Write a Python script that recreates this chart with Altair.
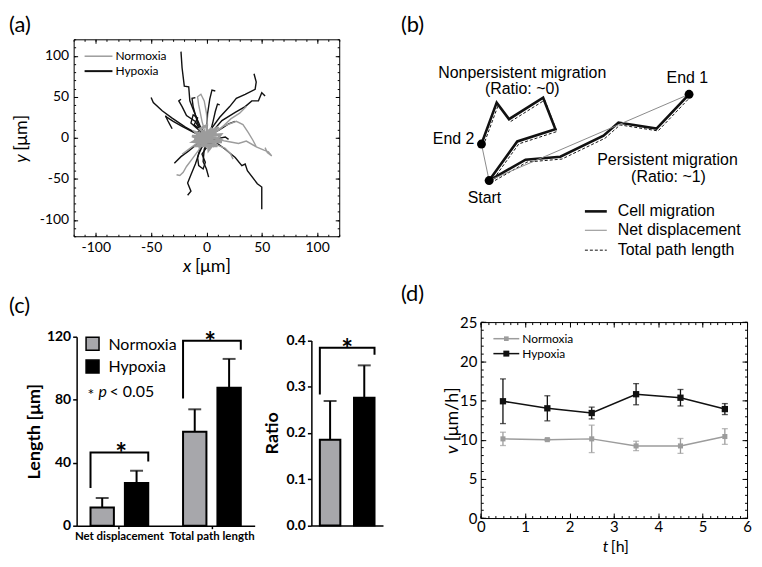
import altair as alt
import pandas as pd

# ---------------------------------------------------------------- layout
W, H = 750, 549


def cx(v):  # page x -> chart x
    return v - 8


def cy(v):  # page y -> chart y
    return v - 8


def off_bottom(y):
    return cy(y) - H


def off_top(y):
    return -cy(y)


def off_left(x):
    return -cx(x)


def off_right(x):
    return cx(x) - W


FONT = "Lato"
SCHEME_FONT = "Liberation Sans"
GRAY = "#9c9c9c"
BAR_GRAY = "#a7a7ab"
BLACK = "#111111"
NUM = "'' + datum.value"

# ---------------------------------------------------------------- (a) data
A_TICKS = [-100, -50, 0, 50, 100]
A_MINOR = list(range(-120, 121, 10))

HYPOXIA_TRACKS = [
    [(0, 2), (-5, 12), (-11, 31), (-15, 45), (-16, 62), (-20, 63), (-22, 85), (-23, 105)],
    [(-2, 2), (-7, 4), (-19, 13), (-31, 24), (-40, 33), (-48, 43), (-50, 49)],
    [(-37, 27), (-35, 21), (-33, 16), (-31, 11)],
    [(2, 2), (5, 12), (12, 25), (21, 38), (27, 48), (35, 53), (44, 59), (45, 68), (43, 78)],
    [(2, 3), (5, 7), (14, 21), (26, 31), (35, 38), (41, 45), (47, 45), (50, 55), (53, 51)],
    [(3, -2), (7, -4), (17, -14), (26, -24), (32, -34), (35, -32), (37, -40), (46, -56), (50, -60), (50, -87)],
    [(-2, -5), (-3, -8), (-7, -20), (-10, -32), (-14, -45), (-17, -55), (-14, -65), (-17, -70)],
    [(-3, -3), (-7, -6), (-16, -16), (-23, -23), (-29, -31)],
    [(1, -5), (-2, -14), (-3, -29), (0, -38), (2, -48)],
    [(0, 3), (1, 29), (3, 47), (5, 58), (8, 57)],
    [(-4, 5), (-10, 20), (-18, 27), (-22, 38), (-25, 45), (-23, 47)],
    [(-3, 4), (-8, 18), (-12, 38), (-13, 48), (-10, 49)],
    [(-4, 6), (-9, 12), (-14, 18), (-12, 28), (-8, 24), (-11, 16), (-6, 10)],
    [(-2, -8), (-6, -14), (-8, -24), (-7, -34), (-3, -38), (-1, -30), (-4, -20), (0, -12)],
    [(4, 4), (12, 10), (20, 17), (26, 20)],
    [(4, -1), (10, -1), (17, 1), (20, -2)],
    [(3, 4), (6, 20), (8, 32), (10, 41), (12, 40)],
    [(-2, 1), (-12, 7), (-22, 14), (-30, 20), (-37, 26)],
    [(0, 0), (-8, 8), (6, -6), (-6, -8), (8, 8), (-10, 0), (10, -2)],
]

NORMOXIA_TRACKS = [
    [(2, 0), (10, -2), (17, -4), (29, -7), (36, -4), (45, -11), (52, -15), (56, -17), (59, -22), (55, -18), (53, -12)],
    [(4, 3), (12, 10), (22, 23), (30, 30), (36, 38)],
    [(3, 2), (15, 14), (27, 20), (33, 16), (38, 6), (42, -3), (45, -11)],
    [(-1, 5), (-4, 20), (-7, 40), (-8, 50), (-5, 53), (-2, 45), (0, 30), (1, 15)],
    [(-2, -4), (-7, -15), (-13, -26), (-18, -35), (-21, -42), (-24, -46), (-27, -45)],
    [(3, -4), (10, -9), (17, -13), (22, -20), (24, -26)],
    [(-3, -2), (-10, -8), (-17, -15), (-22, -20)],
]

NORMOXIA_CORE = [
    (0, 0), (9, 6), (-8, -4), (5, 12), (-5, -10), (12, -2), (-10, 7), (3, -12), (8, 11),
    (-12, -5), (7, -7), (-6, 11), (0, 15), (2, -15), (13, 4), (-13, 2), (10, -10), (-9, -10),
    (11, 13), (-3, 0), (6, 2), (-4, 8), (4, -9), (-11, -1), (14, -5), (0, -6), (-7, 4), (9, 9), (1, 5),
]

# ---------------------------------------------------------------- (b) data
PERSIST_X = [111.7, 148.3, 183.3, 226.7, 241.7, 280.0, 312.7]
PERSIST_Y = [100.0, 121.0, 124.0, 145.0, 158.3, 152.3, 186.7]
NONPERSIST_X = [111.7, 140.0, 178.3, 166.0, 131.7, 119.3, 104.0]
NONPERSIST_Y = [100.0, 139.3, 151.7, 183.3, 161.7, 178.3, 136.7]

# ---------------------------------------------------------------- (c) data
GROUPS = ["Net displacement", "Total path length"]
CONDS = ["Normoxia", "Hypoxia"]
LEN_NOR = [11.6, 59.6]
LEN_NOR_ERR = [6.0, 14.3]
LEN_HYP = [27.1, 87.6]
LEN_HYP_ERR = [7.8, 18.3]
LEN_BRACKET_LEFT = [23.9, 80.8]
LEN_BRACKET_TOP = [46.5, 117.5]
LEN_BRACKET_RIGHT = [40.8, 111.7]
RATIO_GROUP = ["Ratio"]
RATIO_NOR = [0.185]
RATIO_NOR_ERR = [0.084]
RATIO_HYP = [0.276]
RATIO_HYP_ERR = [0.070]
RATIO_BRACKET_LEFT = [0.283]
RATIO_BRACKET_TOP = [0.384]
RATIO_BRACKET_RIGHT = [0.369]

# ---------------------------------------------------------------- (d) data
T_HOURS = [0.5, 1.5, 2.5, 3.5, 4.5, 5.5]
V_NOR = [10.1, 10.0, 10.1, 9.2, 9.2, 10.4]
V_NOR_ERR = [0.85, 0.1, 1.75, 0.6, 0.95, 1.0]
V_HYP = [14.9, 14.0, 13.4, 15.8, 15.35, 13.9]
V_HYP_ERR = [2.85, 1.6, 0.75, 1.35, 1.05, 0.7]
D_XT = [0, 1, 2, 3, 4, 5, 6]
D_XMINOR = [i / 6 for i in range(37)]
D_YT = [0, 5, 10, 15, 20, 25]
D_YMINOR = list(range(26))


# ---------------------------------------------------------------- helpers
def axis(orient, offset, values, labels=False, tick=0, domain=False, lsize=13,
         weight="normal", lpad=3, expr=None, fmt=None, width=1, **kw):
    opts = dict(orient=orient, offset=offset, values=values, labels=labels,
                ticks=tick > 0, tickSize=tick, domain=domain, grid=False,
                domainColor="black", tickColor="black", labelColor="black",
                labelFont=FONT, labelFontSize=lsize, labelFontWeight=weight,
                labelPadding=lpad, labelFlush=False, labelOverlap=False,
                domainWidth=width, tickWidth=width, title=None)
    if expr:
        opts["labelExpr"] = expr
    if fmt:
        opts["format"] = fmt
    opts.update(kw)
    return alt.Axis(**opts)


def txt(s, x, y, size, font=FONT, align="left", baseline="middle", angle=0,
        weight="normal", style="normal", color="black"):
    return alt.Chart(pd.DataFrame({"s": [s]})).mark_text(
        align=align, baseline=baseline, font=font, fontSize=size,
        fontWeight=weight, fontStyle=style, angle=angle, color=color,
    ).encode(x=alt.value(cx(x)), y=alt.value(cy(y)), text="s:N")


def hline(x1, x2, y, color, width, dash=None):
    kw = dict(color=color, strokeWidth=width)
    if dash:
        kw["strokeDash"] = dash
    return alt.Chart(pd.DataFrame({"k": [0]})).mark_rule(**kw).encode(
        x=alt.value(cx(x1)), x2=alt.value(cx(x2)), y=alt.value(cy(y)))


def tracks_frame(tracks, prefix):
    rows = []
    for i, tr in enumerate(tracks):
        for j, (x, y) in enumerate(tr):
            rows.append({"track": f"{prefix}{i}", "step": j, "x": x, "y": y})
    return pd.DataFrame(rows)


layers = []

# ================================================================ panel (a)
XA = alt.Scale(domain=[-120, 120], range=[cx(74), cx(341)], nice=False, zero=False)
YA = alt.Scale(domain=[-120, 120], range=[cy(236), cy(38)], nice=False, zero=False)
hyp_df = tracks_frame(HYPOXIA_TRACKS, "h")
nor_df = tracks_frame(NORMOXIA_TRACKS, "n")
core_df = tracks_frame([NORMOXIA_CORE], "c")
corners_a = pd.DataFrame({"x": [-120, 120], "y": [-120, 120]})

layers += [
    alt.Chart(hyp_df).mark_line(color=BLACK, strokeWidth=1.4).encode(
        x=alt.X("x:Q", scale=XA, axis=axis("bottom", off_bottom(236), A_TICKS, labels=True, lsize=14, lpad=4, expr=NUM)),
        y=alt.Y("y:Q", scale=YA, axis=axis("left", off_left(74), A_TICKS, labels=True, lsize=14, lpad=5, expr=NUM)),
        detail="track:N", order="step:Q"),
    alt.Chart(nor_df).mark_line(color=GRAY, strokeWidth=1.4).encode(
        x=alt.X("x:Q", scale=XA, axis=axis("top", off_top(236), A_TICKS, tick=4, domain=True)),
        y=alt.Y("y:Q", scale=YA, axis=axis("right", off_right(74), A_TICKS, tick=4, domain=True)),
        detail="track:N", order="step:Q"),
    alt.Chart(core_df).mark_line(color=GRAY, strokeWidth=2.6).encode(
        x=alt.X("x:Q", scale=XA, axis=axis("top", off_top(236), A_MINOR, tick=2)),
        y=alt.Y("y:Q", scale=YA, axis=axis("right", off_right(74), A_MINOR, tick=2)),
        order="step:Q"),
    alt.Chart(corners_a).mark_point(opacity=0).encode(
        x=alt.X("x:Q", scale=XA, axis=axis("bottom", off_bottom(38), A_TICKS, tick=4, domain=True)),
        y=alt.Y("y:Q", scale=YA, axis=axis("left", off_left(341), A_TICKS, tick=4, domain=True))),
    alt.Chart(corners_a).mark_point(opacity=0).encode(
        x=alt.X("x:Q", scale=XA, axis=axis("bottom", off_bottom(38), A_MINOR, tick=2)),
        y=alt.Y("y:Q", scale=YA, axis=axis("left", off_left(341), A_MINOR, tick=2))),
    hline(85, 113, 55, GRAY, 1.5),
    hline(85, 113, 70, BLACK, 2),
    txt("Normoxia", 116, 55, 12),
    txt("Hypoxia", 116, 70, 12),
    txt("(a)", 9, 24, 22),
    txt("x", 184, 267, 18, style="italic"),
    txt("[μm]", 196, 267, 18),
    txt("y", 22, 162, 18, angle=270, style="italic"),
    txt("[μm]", 22, 150, 18, angle=270),
]

# ================================================================ panel (b)
XB = alt.Scale(domain=[0, 382], range=[cx(380), cx(762)], nice=False, zero=False)
YB = alt.Scale(domain=[0, 280], range=[cy(280), cy(0)], nice=False, zero=False)
paths_rows = []
for name, xs, ys in (("persistent", PERSIST_X, PERSIST_Y), ("nonpersistent", NONPERSIST_X, NONPERSIST_Y)):
    for j, (x, y) in enumerate(zip(xs, ys)):
        paths_rows.append({"path": name, "step": j, "x": x, "y": y})
paths_df = pd.DataFrame(paths_rows)
net_rows = []
for name, xs, ys in (("persistent", PERSIST_X, PERSIST_Y), ("nonpersistent", NONPERSIST_X, NONPERSIST_Y)):
    net_rows.append({"path": name, "step": 0, "x": xs[0], "y": ys[0]})
    net_rows.append({"path": name, "step": 1, "x": xs[-1], "y": ys[-1]})
net_df = pd.DataFrame(net_rows)
dots_df = pd.DataFrame({"x": [PERSIST_X[0], PERSIST_X[-1], NONPERSIST_X[-1]],
                        "y": [PERSIST_Y[0], PERSIST_Y[-1], NONPERSIST_Y[-1]]})


def b_enc(ch):
    return ch.encode(x=alt.X("x:Q", scale=XB, axis=None), y=alt.Y("y:Q", scale=YB, axis=None))


layers += [
    b_enc(alt.Chart(paths_df).mark_line(color=BLACK, strokeWidth=1, strokeDash=[3, 2], xOffset=1.6, yOffset=2.4)).encode(
        detail="path:N", order="step:Q"),
    b_enc(alt.Chart(paths_df).mark_line(color=BLACK, strokeWidth=2.6)).encode(detail="path:N", order="step:Q"),
    b_enc(alt.Chart(net_df).mark_line(color="#8a8a8a", strokeWidth=1)).encode(detail="path:N", order="step:Q"),
    b_enc(alt.Chart(dots_df).mark_circle(size=80, color="black", opacity=1)),
    txt("(b)", 403, 24, 22),
    txt("Nonpersistent migration", 525, 77, 16, font=SCHEME_FONT, align="center", baseline="alphabetic"),
    txt("(Ratio: ~0)", 525, 93, 16, font=SCHEME_FONT, align="center", baseline="alphabetic"),
    txt("End 1", 691, 82, 16, font=SCHEME_FONT, align="center", baseline="alphabetic"),
    txt("End 2", 456, 143, 16, font=SCHEME_FONT, align="center", baseline="alphabetic"),
    txt("Start", 487, 203, 16, font=SCHEME_FONT, align="center", baseline="alphabetic"),
    txt("Persistent migration", 671, 164, 16, font=SCHEME_FONT, align="center", baseline="alphabetic"),
    txt("(Ratio: ~1)", 672, 181, 16, font=SCHEME_FONT, align="center", baseline="alphabetic"),
    hline(588, 610, 211, BLACK, 2.6),
    hline(588, 610, 230, "#8a8a8a", 1),
    hline(588, 610, 250, BLACK, 1, dash=[3, 2]),
    txt("Cell migration", 621, 211, 16, font=SCHEME_FONT),
    txt("Net displacement", 621, 230, 16, font=SCHEME_FONT),
    txt("Total path length", 621, 250, 16, font=SCHEME_FONT),
]

# ================================================================ panel (c)
FILL = alt.Scale(domain=CONDS, range=[BAR_GRAY, "#000000"])


def bar_panel(groups, nor, nor_err, hyp, hyp_err, b_left, b_top, b_right,
              xscale, xoscale, yscale, xaxis, yaxis, star_size=28):
    bars = []
    for g, m, e in zip(groups, nor, nor_err):
        bars.append({"group": g, "cond": "Normoxia", "mean": m, "hi": m + e})
    for g, m, e in zip(groups, hyp, hyp_err):
        bars.append({"group": g, "cond": "Hypoxia", "mean": m, "hi": m + e})
    bars_df = pd.DataFrame(bars)
    br = []
    for g, lo_l, top, lo_r in zip(groups, b_left, b_top, b_right):
        br += [{"group": g, "cond": "Normoxia", "y": lo_l, "k": 0},
               {"group": g, "cond": "Normoxia", "y": top, "k": 1},
               {"group": g, "cond": "Hypoxia", "y": top, "k": 2},
               {"group": g, "cond": "Hypoxia", "y": lo_r, "k": 3}]
    br_df = pd.DataFrame(br)
    star_df = pd.DataFrame({"group": groups, "y": b_top, "s": ["*"] * len(groups)})
    X = lambda ax: alt.X("group:N", scale=xscale, sort=groups, axis=ax)
    XO = alt.XOffset("cond:N", scale=xoscale, sort=CONDS)
    return [
        alt.Chart(bars_df).mark_bar(stroke="black", strokeWidth=2).encode(
            x=X(xaxis), xOffset=XO, y=alt.Y("mean:Q", scale=yscale, axis=yaxis),
            color=alt.Color("cond:N", scale=FILL, legend=None)),
        alt.Chart(bars_df).mark_rule(color="black", strokeWidth=2).encode(
            x=X(None), xOffset=XO, y=alt.Y("mean:Q", scale=yscale, axis=None), y2="hi:Q"),
        alt.Chart(bars_df).mark_tick(color="black", orient="horizontal", size=13, thickness=2).encode(
            x=X(None), xOffset=XO, y=alt.Y("hi:Q", scale=yscale, axis=None)),
        alt.Chart(br_df).mark_line(color="black", strokeWidth=2, strokeJoin="miter").encode(
            x=X(None), xOffset=XO, y=alt.Y("y:Q", scale=yscale, axis=None), detail="group:N", order="k:Q"),
        alt.Chart(star_df).mark_text(font=FONT, fontSize=star_size, fontWeight="bold", baseline="alphabetic", dy=11).encode(
            x=X(None), y=alt.Y("y:Q", scale=yscale, axis=None), text="s:N"),
    ]


XC = alt.Scale(domain=GROUPS, range=[cx(77), cx(256)], paddingInner=0.376, paddingOuter=0.15)
XOC = alt.Scale(domain=CONDS, paddingInner=0.32, paddingOuter=0)
YC = alt.Scale(domain=[0, 120], range=[cy(527), cy(337)], nice=False, zero=False)
xc_axis = axis("bottom", off_bottom(527), GROUPS, labels=True, tick=3, domain=True, lsize=11.5,
               weight="bold", lpad=2, width=1.5, labelAngle=0)
yc_axis = axis("left", off_left(77), [0, 40, 80, 120], labels=True, tick=4, domain=True, lsize=14,
               weight="bold", lpad=2, width=1.5, title="Length [μm]", titleFont=FONT, titleFontSize=18,
               titleFontWeight="bold", titleColor="black", titlePadding=3)
layers += bar_panel(GROUPS, LEN_NOR, LEN_NOR_ERR, LEN_HYP, LEN_HYP_ERR,
                    LEN_BRACKET_LEFT, LEN_BRACKET_TOP, LEN_BRACKET_RIGHT, XC, XOC, YC, xc_axis, yc_axis)

XR = alt.Scale(domain=RATIO_GROUP, range=[cx(313), cx(385)], paddingInner=0, paddingOuter=0.155)
XOR = alt.Scale(domain=CONDS, paddingInner=0.4, paddingOuter=0)
YR = alt.Scale(domain=[0, 0.4], range=[cy(526.7), cy(340.7)], nice=False, zero=False)
xr_axis = axis("bottom", off_bottom(526.7), RATIO_GROUP, labels=False, tick=0, domain=True, width=1.5)
yr_axis = axis("left", off_left(313), [0, 0.1, 0.2, 0.3, 0.4], labels=True, tick=4, domain=True, lsize=14,
               weight="bold", lpad=2, width=1.5, fmt=".1f", title="Ratio", titleFont=FONT, titleFontSize=18,
               titleFontWeight="bold", titleColor="black", titlePadding=4)
layers += bar_panel(RATIO_GROUP, RATIO_NOR, RATIO_NOR_ERR, RATIO_HYP, RATIO_HYP_ERR,
                    RATIO_BRACKET_LEFT, RATIO_BRACKET_TOP, RATIO_BRACKET_RIGHT, XR, XOR, YR, xr_axis, yr_axis)

layers += [
    alt.Chart(pd.DataFrame({"k": [0]})).mark_square(size=170, color=BAR_GRAY, stroke="black", strokeWidth=1.5, opacity=1).encode(
        x=alt.value(cx(93)), y=alt.value(cy(344))),
    alt.Chart(pd.DataFrame({"k": [0]})).mark_square(size=170, color="black", stroke="black", strokeWidth=1.5, opacity=1).encode(
        x=alt.value(cx(93)), y=alt.value(cy(367))),
    txt("Normoxia", 109, 345, 16),
    txt("Hypoxia", 109, 367, 16),
    txt("*", 88, 401, 16, baseline="alphabetic"),
    txt("p", 99, 398, 16, baseline="alphabetic", style="italic"),
    txt("< 0.05", 110, 398, 16, baseline="alphabetic"),
    txt("(c)", 9, 306, 22),
]

# ================================================================ panel (d)
XD = alt.Scale(domain=[0, 6], range=[cx(483.3), cx(751)], nice=False, zero=False)
YD = alt.Scale(domain=[0, 25], range=[cy(519.3), cy(322.3)], nice=False, zero=False)
speed_rows = []
for cond, vs, es in (("Normoxia", V_NOR, V_NOR_ERR), ("Hypoxia", V_HYP, V_HYP_ERR)):
    for t, v, e in zip(T_HOURS, vs, es):
        speed_rows.append({"cond": cond, "t": t, "v": v, "lo": v - e, "hi": v + e})
speed_df = pd.DataFrame(speed_rows)
caps_df = pd.concat([speed_df.assign(cap=speed_df["lo"]), speed_df.assign(cap=speed_df["hi"])])
SERIES = alt.Scale(domain=CONDS, range=[GRAY, BLACK])

layers += [
    alt.Chart(speed_df[speed_df.cond == "Normoxia"]).mark_line(color=GRAY, strokeWidth=1.5).encode(
        x=alt.X("t:Q", scale=XD, axis=axis("bottom", off_bottom(519.3), D_XT, labels=True, lsize=15, lpad=2)),
        y=alt.Y("v:Q", scale=YD, axis=axis("left", off_left(483.3), D_YT, labels=True, lsize=15, lpad=4))),
    alt.Chart(speed_df[speed_df.cond == "Hypoxia"]).mark_line(color=BLACK, strokeWidth=1.5).encode(
        x=alt.X("t:Q", scale=XD, axis=axis("top", off_top(519.3), D_XT, tick=5, domain=True)),
        y=alt.Y("v:Q", scale=YD, axis=axis("right", off_right(483.3), D_YT, tick=5, domain=True))),
    alt.Chart(speed_df).mark_rule(strokeWidth=1.3).encode(
        x=alt.X("t:Q", scale=XD, axis=axis("top", off_top(519.3), D_XMINOR, tick=2.5)),
        y=alt.Y("lo:Q", scale=YD, axis=axis("right", off_right(483.3), D_YMINOR, tick=2.5)),
        y2="hi:Q", color=alt.Color("cond:N", scale=SERIES, legend=None)),
    alt.Chart(caps_df).mark_tick(orient="horizontal", size=6, thickness=1.3).encode(
        x=alt.X("t:Q", scale=XD, axis=axis("bottom", off_bottom(322.3), D_XT, tick=5, domain=True)),
        y=alt.Y("cap:Q", scale=YD, axis=axis("left", off_left(751), D_YT, tick=5, domain=True)),
        color=alt.Color("cond:N", scale=SERIES, legend=None)),
    alt.Chart(speed_df[speed_df.cond == "Normoxia"]).mark_square(size=26, color=GRAY, opacity=1).encode(
        x=alt.X("t:Q", scale=XD, axis=axis("bottom", off_bottom(322.3), D_XMINOR, tick=2.5)),
        y=alt.Y("v:Q", scale=YD, axis=axis("left", off_left(751), D_YMINOR, tick=2.5))),
    alt.Chart(speed_df[speed_df.cond == "Hypoxia"]).mark_square(size=40, color=BLACK, opacity=1).encode(
        x=alt.X("t:Q", scale=XD, axis=None), y=alt.Y("v:Q", scale=YD, axis=None)),
    hline(496, 522, 339, GRAY, 1.5),
    alt.Chart(pd.DataFrame({"k": [0]})).mark_square(size=22, color=GRAY, opacity=1).encode(
        x=alt.value(cx(509)), y=alt.value(cy(339))),
    hline(496, 522, 354, BLACK, 1.5),
    alt.Chart(pd.DataFrame({"k": [0]})).mark_square(size=36, color=BLACK, opacity=1).encode(
        x=alt.value(cx(509)), y=alt.value(cy(354))),
    txt("Normoxia", 525, 339, 12),
    txt("Hypoxia", 525, 354, 12),
    txt("(d)", 403, 294, 22),
    txt("t", 606, 548, 16, style="italic"),
    txt("[h]", 614, 548, 16),
    txt("v", 455, 455, 18, angle=270, style="italic"),
    txt("[μm/h]", 455, 442, 18, angle=270),
]

chart = alt.layer(*layers).resolve_scale(
    x="independent", y="independent", xOffset="independent", color="independent"
).resolve_axis(x="independent", y="independent").properties(
    width=W, height=H, autosize=alt.AutoSizeParams(type="none"), padding=0
).configure_view(stroke=None)

chart.save("out.html", embed_options={"renderer": "svg", "actions": False})
